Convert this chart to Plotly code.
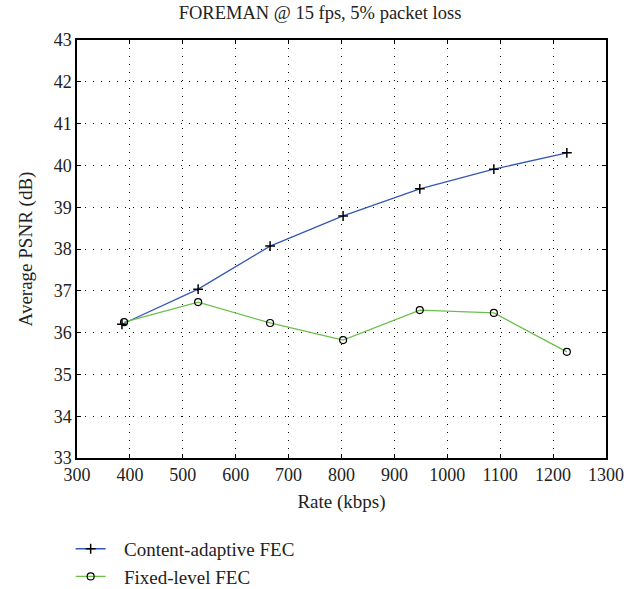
import plotly.graph_objects as go

rate_adaptive = [385, 529, 665, 803, 948, 1088, 1226]
psnr_adaptive = [36.20, 37.04, 38.07, 38.79, 39.44, 39.91, 40.30]
rate_fixed = [389, 529, 665, 803, 948, 1088, 1226]
psnr_fixed = [36.25, 36.73, 36.23, 35.82, 36.54, 36.47, 35.54]
series_names = ["Content-adaptive FEC", "Fixed-level FEC"]

FONT = "Liberation Serif"
TXT = "#222"
GAP = "\u2002\u2009"

fig = go.Figure()
fig.add_trace(go.Scatter(
    x=rate_adaptive, y=psnr_adaptive, name=GAP + series_names[0],
    mode="lines+markers",
    line=dict(color="#3557b5", width=1.3),
    marker=dict(symbol="cross-thin", size=7, color="black",
                line=dict(color="black", width=1.5)),
))
fig.add_trace(go.Scatter(
    x=rate_fixed, y=psnr_fixed, name=GAP + series_names[1],
    mode="lines+markers",
    line=dict(color="#6cc04a", width=1.3),
    marker=dict(symbol="circle-open", size=7, color="black",
                line=dict(color="black", width=1.2)),
))

axis_common = dict(
    showgrid=True, gridcolor="black", gridwidth=1, griddash="1px,7px",
    showline=True, linecolor="black", linewidth=1.5, mirror="ticks",
    ticks="inside", ticklen=4, tickcolor="black",
    zeroline=False,
    tickfont=dict(family=FONT, size=18, color=TXT),
)

fig.update_xaxes(range=[300, 1300], dtick=100, tick0=300,
                 title=dict(text="Rate (kbps)", font=dict(family=FONT, size=19, color=TXT), standoff=10),
                 **axis_common)
fig.update_yaxes(range=[33, 43], dtick=1,
                 title=dict(text="Average PSNR (dB)", font=dict(family=FONT, size=19, color=TXT), standoff=16),
                 **axis_common)

fig.update_layout(
    width=640, height=589,
    margin=dict(l=77, r=34, t=40, b=131, autoexpand=False),
    paper_bgcolor="white", plot_bgcolor="white",
    title=dict(text="FOREMAN @ 15 fps, 5% packet loss", x=0.5, xanchor="center",
               y=0.99, yanchor="top", font=dict(family=FONT, size=18.5, color=TXT)),
    font=dict(family=FONT, color=TXT),
    legend=dict(x=-0.012, y=-0.172, xanchor="left", yanchor="top",
                font=dict(family=FONT, size=19, color=TXT),
                bgcolor="rgba(0,0,0,0)", tracegroupgap=0),
    showlegend=True,
)

fig.write_html("out.html")
